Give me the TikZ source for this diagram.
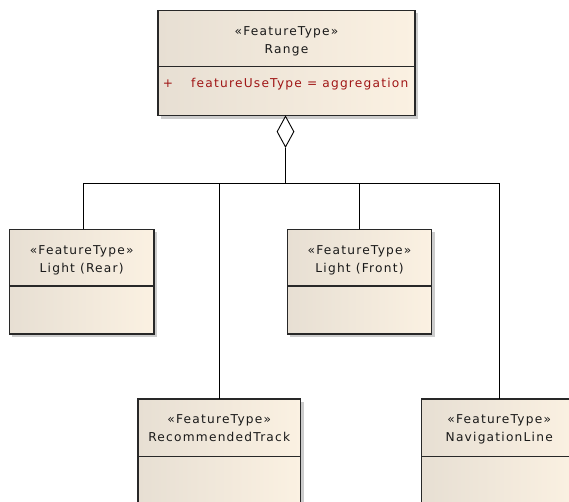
\documentclass[tikz,border=0pt]{standalone}
\usepackage{fontspec}
\setmainfont{DejaVu Sans}[LetterSpace=10]
\usetikzlibrary{shapes.geometric,shadows}

\definecolor{boxleft}{RGB}{231,223,211}
\definecolor{boxright}{RGB}{251,241,226}
\definecolor{attrred}{RGB}{160,22,22}
\definecolor{edgeink}{RGB}{40,40,40}

\tikzset{
  x=1pt, y=1pt,
  classbox/.style={draw=edgeink, line width=1.3pt, left color=boxleft,
    right color=boxright, anchor=north west, inner sep=0pt, outer sep=0pt,
    drop shadow={shadow xshift=3pt, shadow yshift=-3pt, fill=black!25, opacity=0.8}},
  divider/.style={draw=edgeink, line width=1.3pt},
  uml text/.style={font=\fontsize{12.2}{14}\selectfont, anchor=base, inner sep=0pt, text=black!90},
  attr text/.style={uml text, text=attrred},
  connector/.style={draw=black, line width=0.9pt},
  aggregation/.style={diamond, draw=black, fill=white, line width=0.9pt,
    inner sep=0pt, minimum width=17pt, minimum height=31pt, anchor=north}
}

\begin{document}
\begin{tikzpicture}
\useasboundingbox (0,0) rectangle (569,-502);
\clip (0,0) rectangle (569,-502);

% class boxes
\node[classbox, minimum width=257pt, minimum height=105.4pt] (range) at (158,-10.3) {};
\node[classbox, minimum width=144.7pt, minimum height=104.7pt] (rear) at (9.3,-229.3) {};
\node[classbox, minimum width=144.4pt, minimum height=104.7pt] (front) at (287.3,-229.3) {};
\node[classbox, minimum width=162.5pt, minimum height=106pt] (track) at (138,-399) {};
\node[classbox, minimum width=155pt, minimum height=106pt] (navline) at (421.7,-399) {};

% compartment separators
\foreach \b/\h in {range/56.4, rear/56.7, front/56.7, track/57.3, navline/57.3}
  \draw[divider] ([yshift=-\h pt]\b.north west) -- ([yshift=-\h pt]\b.north east);

% names and stereotypes
\foreach \b/\n in {range/Range, rear/Light (Rear), front/Light (Front),
                   track/RecommendedTrack, navline/NavigationLine} {
  \node[uml text] (\b-st) at ([yshift=-24.8pt]\b.north) {«FeatureType»};
  \node[uml text] (\b-name) at ([yshift=-42.8pt]\b.north) {\n};
}

% attribute of Range
\node[attr text] (plus) at (168,-87.5) {+};
\node[attr text, anchor=base west] (attr) at (191,-87.5) {featureUseType = aggregation};

% aggregation tree
\node[aggregation] (agg) at ([xshift=-1pt]range.south) {};
\coordinate (junction) at ([yshift=-36pt]agg.south);
\draw[connector] (agg.south) -- (junction);
\draw[connector] ([xshift=1.5pt]rear.north) |- (junction) -| (navline.north);
\draw[connector] (track.north) -- (track.north |- junction);
\draw[connector] (front.north) -- (front.north |- junction);
\end{tikzpicture}
\end{document}
